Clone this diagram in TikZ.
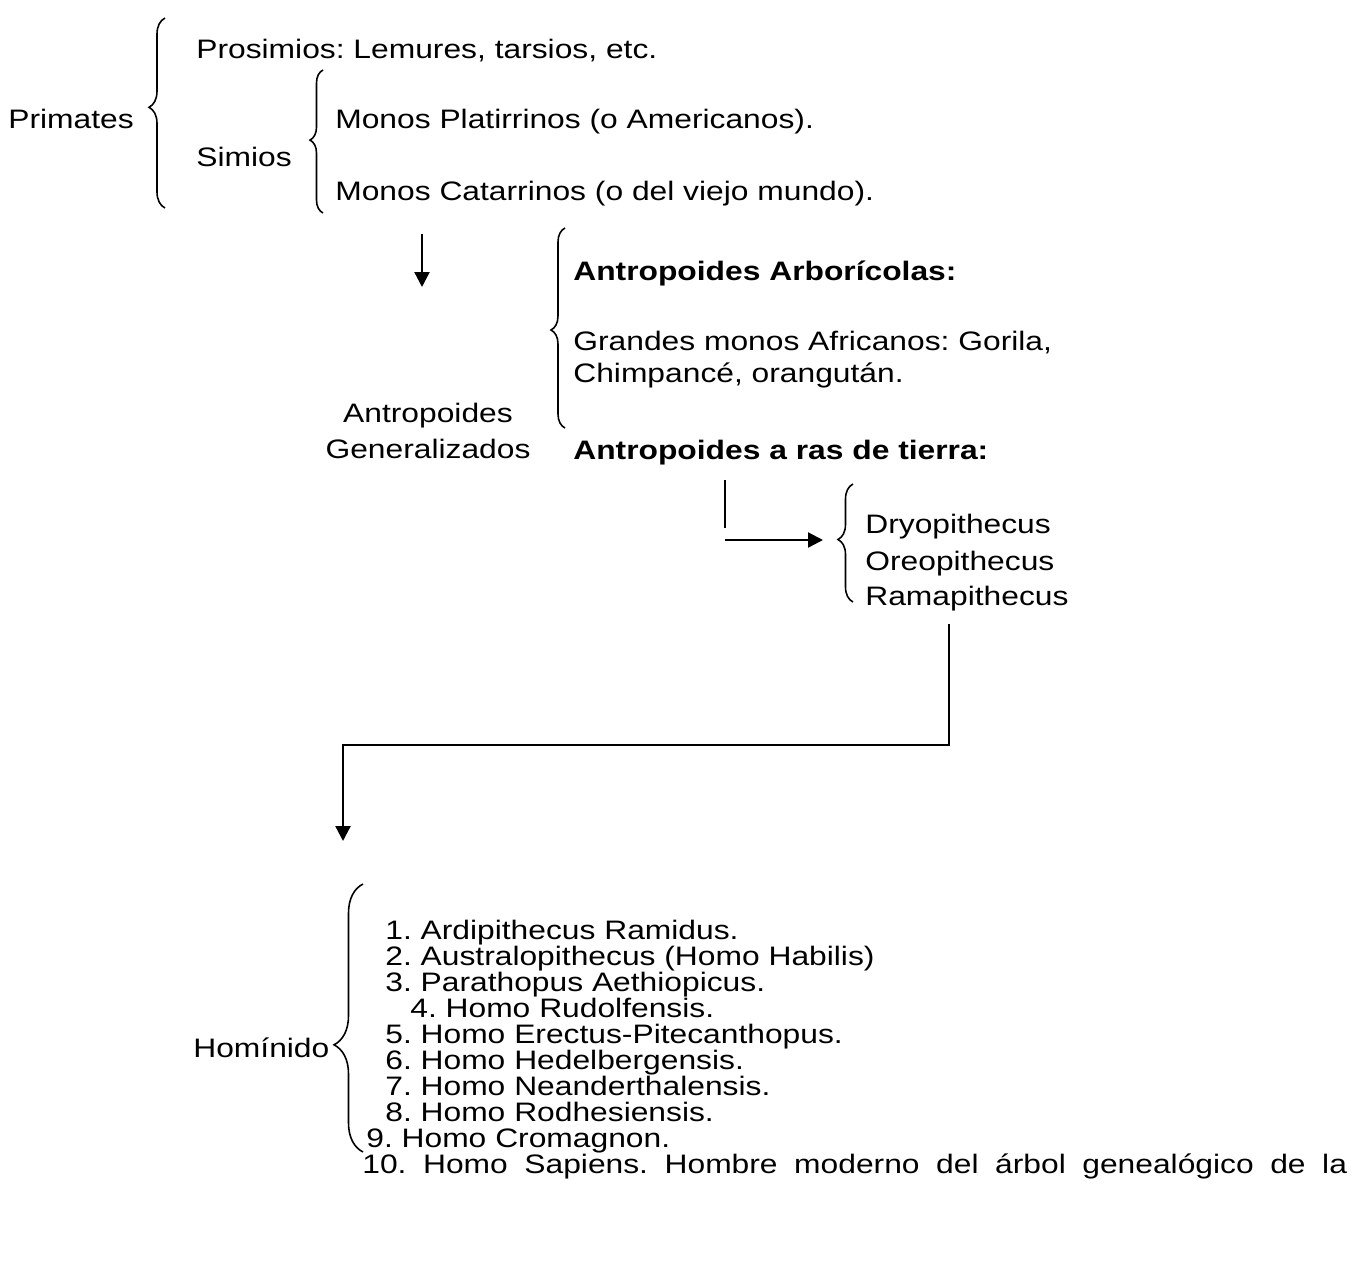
\documentclass[tikz,border=0pt]{standalone}
\usepackage{fontspec}
\setmainfont{Liberation Sans}[FakeStretch=1.19]
\usetikzlibrary{arrows.meta,decorations.pathreplacing,positioning}
\frenchspacing

\begin{document}
\begin{tikzpicture}[
    x=0.02cm, y=-0.02cm,
    lbl/.style={anchor=base west, inner sep=0pt, font=\fontsize{15.2}{18}\selectfont},
    boldlbl/.style={lbl, font=\fontsize{15.2}{18}\selectfont\bfseries},
    brc/.style n args={2}{decorate, decoration={brace, amplitude=#1, aspect=#2}, line width=0.9pt},
    conn/.style={line width=1.3pt},
    arr/.style={conn, -{Triangle[length=0.3cm, width=0.3cm]}}
]
    \useasboundingbox (0,0) rectangle (1367,1279);

    % clasificacion de primates
    \node[lbl] (primates) at (8,128) {Primates};
    \node[lbl] (prosimios) at (196,58) {Prosimios: Lemures, tarsios, etc.};
    \node[lbl] (simios) at (196,166) {Simios};
    \node[lbl] (platirrinos) at (335,128) {Monos Platirrinos (o Americanos).};
    \node[lbl] (catarrinos) at (335,200) {Monos Catarrinos (o del viejo mundo).};
    \draw[brc={0.32cm}{0.53}] (165,208) -- (165,18);
    \draw[brc={0.26cm}{0.51}] (323,213) -- (323,70);

    % antropoides
    \node[boldlbl] (arboricolas) at (573,280) {Antropoides Arborícolas:};
    \node[lbl] (grandes) at (573,350) {Grandes monos Africanos: Gorila,};
    \node[lbl] (chimpance) at (573,382) {Chimpancé, orangután.};
    \node[lbl, anchor=base] (antropoides) at (428,422) {Antropoides};
    \node[lbl, anchor=base] (generalizados) at (428,458) {Generalizados};
    \node[boldlbl] (rastierra) at (573,459) {Antropoides a ras de tierra:};
    \draw[brc={0.28cm}{0.49}] (565,428) -- (565,228);

    \coordinate (a1s) at (422,234);
    \coordinate (a1e) at (422,287);
    \draw[arr] (a1s) -- (a1e);

    % a ras de tierra
    \node[lbl] (dryo) at (865,533) {Dryopithecus};
    \node[lbl] (oreo) at (865,570) {Oreopithecus};
    \node[lbl] (rama) at (865,605) {Ramapithecus};
    \draw[brc={0.3cm}{0.53}] (853,602) -- (853,484);

    \coordinate (v1s) at (725,480);
    \coordinate (v1e) at (725,528);
    \draw[conn] (v1s) -- (v1e);
    \coordinate (h1s) at (725,540);
    \coordinate (h1e) at (823,540);
    \draw[arr] (h1s) -- (h1e);

    \coordinate (e1) at (949,624);
    \coordinate (e2) at (343,841);
    \draw[arr] (e1) -- ++(0,121) -| (e2);

    % hominidos
    \node[lbl] (hominido) at (193,1057) {Homínido};
    \draw[brc={0.58cm}{0.4}] (363,1152) -- (363,884);
    \node[lbl] (h1) at (385,939) {1. Ardipithecus Ramidus.};
    \node[lbl] (h2) at (385,965) {2. Australopithecus (Homo Habilis)};
    \node[lbl] (h3) at (385,991) {3. Parathopus Aethiopicus.};
    \node[lbl] (h4) at (410,1017) {4. Homo Rudolfensis.};
    \node[lbl] (h5) at (385,1043) {5. Homo Erectus-Pitecanthopus.};
    \node[lbl] (h6) at (385,1069) {6. Homo Hedelbergensis.};
    \node[lbl] (h7) at (385,1095) {7. Homo Neanderthalensis.};
    \node[lbl] (h8) at (385,1121) {8. Homo Rodhesiensis.};
    \node[lbl] (h9) at (366,1147) {9. Homo Cromagnon.};
    \node[lbl] (h10) at (362,1173) {\makebox[19.7cm][s]{10. Homo Sapiens. Hombre moderno del árbol genealógico de la}};
\end{tikzpicture}
\end{document}
